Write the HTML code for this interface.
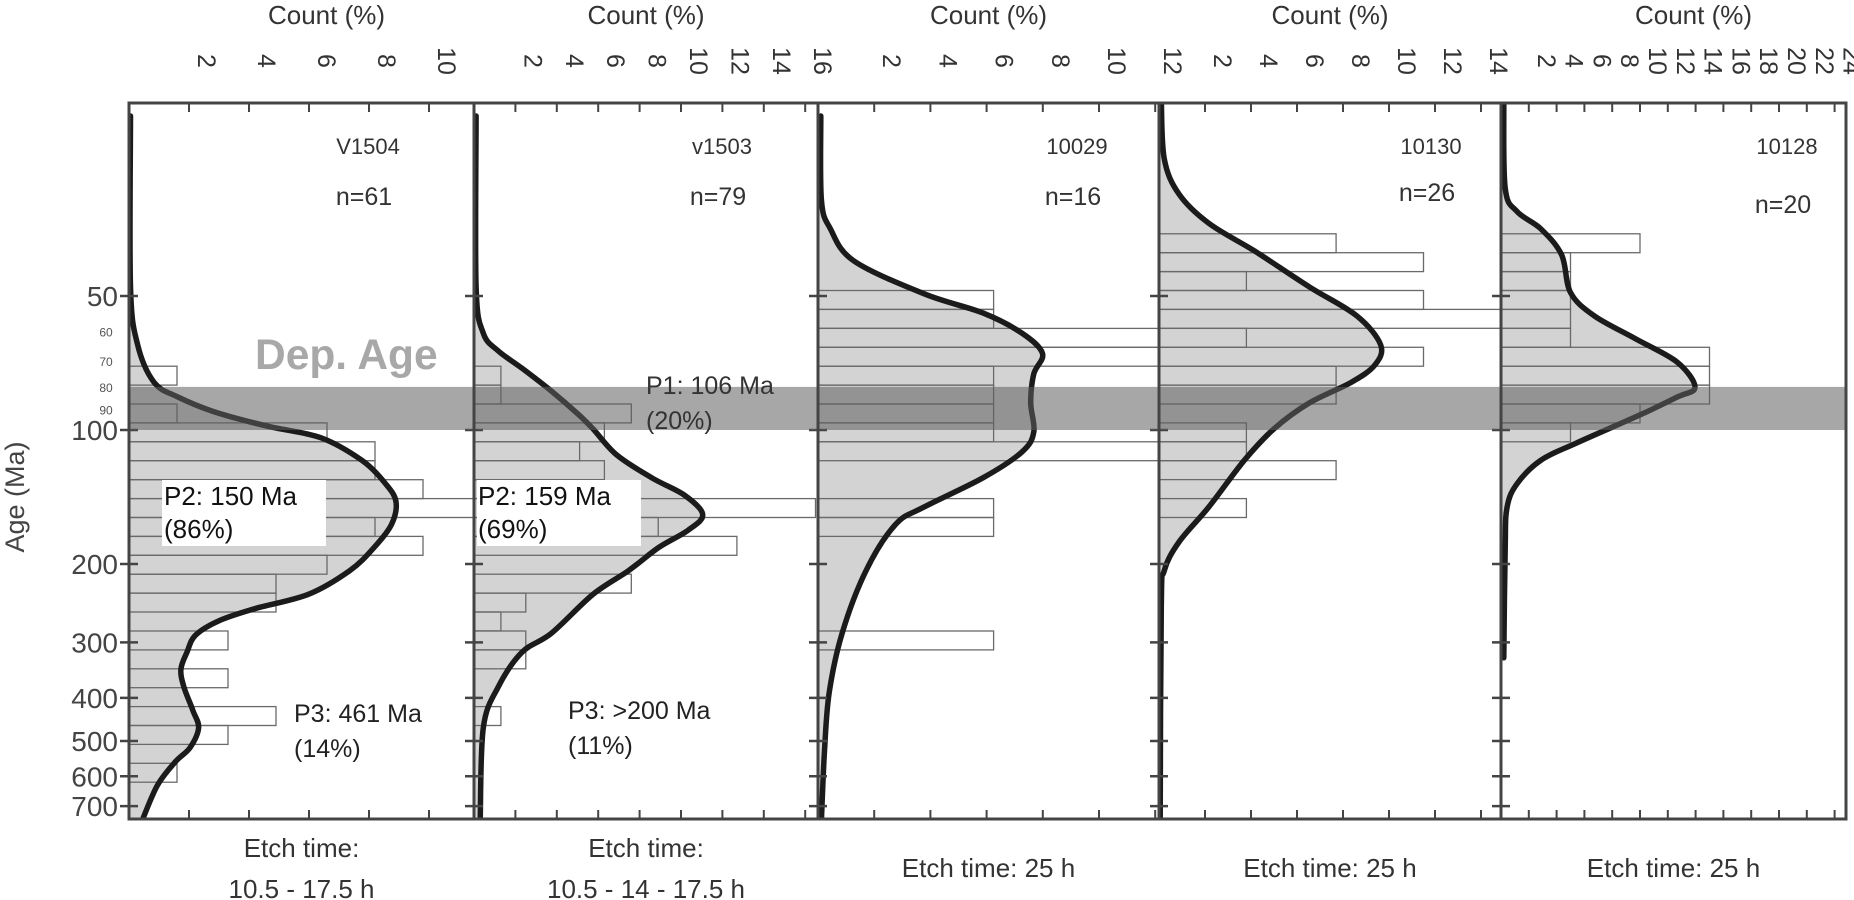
<!DOCTYPE html>
<html><head><meta charset="utf-8"><style>
html,body{margin:0;padding:0;background:#fff;}
svg{display:block;font-family:"Liberation Sans",Arial,sans-serif;}
</style></head><body>
<svg id="chart" width="1854" height="900" viewBox="0 0 1854 900" xmlns="http://www.w3.org/2000/svg">
<g id="root"></g>
</svg>
<script>
// ---- data ----
const sampleNames = ["V1504","v1503","10029","10130","10128"];
const sampleN = ["n=61","n=79","n=16","n=26","n=20"];
const etchLabels = [["Etch time:","10.5  - 17.5 h"],["Etch time:","10.5 - 14 - 17.5 h"],["Etch time: 25 h"],["Etch time: 25 h"],["Etch time: 25 h"]];
const countTicks1 = [2,4,6,8,10];
const countTicks2 = [2,4,6,8,10,12,14,16];
const countTicks3 = [2,4,6,8,10,12];
const countTicks4 = [2,4,6,8,10,12,14];
const countTicks5 = [2,4,6,8,10,12,14,16,18,20,22,24];
const ageTicks = [50,100,200,300,400,500,600,700];
const ageMinorTicks = [60,70,80,90];
const depAge = [80,100];
// histogram bins (percent), starting bin index per panel
const histStart = [-3,-3,-7,-10,-10];
const hist1 = [1.6,0,1.6,6.6,8.2,8.2,9.8,11.5,8.2,9.8,6.6,4.9,4.9,0,3.3,0,3.3,0,4.9,3.3,0,1.6];
const hist2 = [1.3,1.3,7.6,6.3,5.1,6.3,3.8,16.5,8.9,12.7,0,7.6,2.5,1.3,2.5,2.5,0,0,1.3];
const hist3 = [6.25,6.25,12.5,12.5,6.25,6.25,6.25,6.25,12.5,0,0,6.25,6.25,0,0,0,0,0,6.25];
const hist4 = [7.7,11.5,3.8,11.5,15.4,3.8,11.5,7.7,7.7,0,3.8,3.8,7.7,0,3.8];
const hist5 = [10,5,5,5,5,5,15,15,15,10,5];
// probability density curves
const ages1 = [19.7,47.7,64.4,78.2,84.3,90.9,98,104,117,132,145,163,184,207,234,252,268,289,316,345,378,427,467,518,558,630,754];
const pct1 = [0.05,0.05,0.29,0.84,1.63,2.82,4.6,6.38,7.76,8.55,8.9,8.75,8.16,7.36,5.98,4.2,3.02,2.22,1.93,1.73,1.83,2.13,2.32,2.03,1.53,0.94,0.44];
const ages2 = [19.7,47.7,60.6,66.4,72.6,81.8,92.2,99.4,113.8,128.3,140.4,155,168,184,207,234,286,316,378,467,754];
const pct2 = [0.1,0.1,0.45,1.17,2.31,3.75,5.04,5.75,6.9,8.62,10.2,11.05,10.34,8.9,7.47,5.75,3.75,2.31,1.17,0.45,0.3];
const ages3 = [19.7,30.4,35.3,41.7,49.5,54.6,60.6,67.3,74.8,86.9,101,112,128,149,163,207,286,389,526,754];
const pct3 = [0.1,0.12,0.44,1.28,3.8,5.88,7.26,7.99,7.68,7.57,7.68,7.26,5.88,3.77,2.76,1.71,0.86,0.4,0.23,0.12];
const ages4 = [18.2,24.6,29.5,34.3,39.8,47.7,55.4,64.4,71.5,78.2,86.9,99.4,117,149,178.5,207,248,760];
const pct4 = [0.1,0.23,0.87,2.16,4.22,6.54,8.6,9.64,9.38,8.35,6.54,5.0,3.71,2.16,0.87,0.23,0.1,0.05];
const ages5 = [18.2,28.6,32.3,35.3,40.4,49.1,55.4,62.4,70.4,80.1,84.3,92.2,107,117,132,149,184,325];
const pct5 = [0.2,0.3,1.16,2.86,4.36,5.0,6.71,9.69,12.68,13.96,12.68,10.1,5.42,2.86,1.16,0.44,0.3,0.2];

// ---- layout ----
const NS="http://www.w3.org/2000/svg";
const root=document.getElementById('root');
const TOP=103, BOT=819, RIGHT=1846;
const lefts=[129,474,818,1159,1501];
const pxPer=[30,20.7,28.1,23,13.9];
const binBase=96.4, binStep=0.0425;
function yOf(age){return 430+445*Math.log10(age/100);}
function mk(tag,attrs,parent){const e=document.createElementNS(NS,tag);for(const k in attrs)e.setAttribute(k,attrs[k]);(parent||root).appendChild(e);return e;}
function txt(s,attrs,parent){const e=mk('text',attrs,parent);e.textContent=s;return e;}
function smooth(pts){
  let d='M'+pts[0][0].toFixed(1)+','+pts[0][1].toFixed(1);
  for(let i=0;i<pts.length-1;i++){
    const p0=pts[Math.max(0,i-1)],p1=pts[i],p2=pts[i+1],p3=pts[Math.min(pts.length-1,i+2)];
    const c1x=p1[0]+(p2[0]-p0[0])/6,c1y=p1[1]+(p2[1]-p0[1])/6;
    const c2x=p2[0]-(p3[0]-p1[0])/6,c2y=p2[1]-(p3[1]-p1[1])/6;
    d+=' C'+c1x.toFixed(1)+','+c1y.toFixed(1)+' '+c2x.toFixed(1)+','+c2y.toFixed(1)+' '+p2[0].toFixed(1)+','+p2[1].toFixed(1);
  }
  return d;
}

const hists=[hist1,hist2,hist3,hist4,hist5];
const curvesA=[ages1,ages2,ages3,ages4,ages5];
const curvesP=[pct1,pct2,pct3,pct4,pct5];
const ticksAll=[countTicks1,countTicks2,countTicks3,countTicks4,countTicks5];
const defs=mk('defs',{});

for(let p=0;p<5;p++){
  const L=lefts[p], R=(p<4?lefts[p+1]:RIGHT);
  const xOf=v=>L+v*pxPer[p];
  const cp=mk('clipPath',{id:'clip'+p},defs);
  mk('rect',{x:L,y:TOP,width:R-L,height:BOT-TOP},cp);
  const g=mk('g',{'clip-path':'url(#clip'+p+')'});
  
  
  const A=curvesA[p], P=curvesP[p];
  const pts=A.map((a,i)=>[xOf(P[i]),yOf(a)]);
  const sd=smooth(pts);
  const d=sd+' L'+L+','+yOf(A[A.length-1]).toFixed(1)+' L'+L+','+yOf(A[0]).toFixed(1)+' Z';
  const f=mk('path',{d:d,fill:'#d3d3d3',stroke:'none'},g);
  
  
  const H=hists[p];
  for(let i=0;i<H.length;i++){
    if(H[i]<=0) continue;
    const k=histStart[p]+i;
    const a0=binBase*Math.pow(10,k*binStep), a1=binBase*Math.pow(10,(k+1)*binStep);
    const y0=yOf(a0), y1=yOf(a1);
    const r=mk('rect',{x:L,y:y0.toFixed(1),width:(xOf(H[i])-L).toFixed(1),height:(y1-y0).toFixed(1),fill:'none',stroke:'#6a6a6a','stroke-width':1.3},g);
    
    
  }
  const ln=mk('path',{d:sd,fill:'none',stroke:'#1b1b1b','stroke-width':5.5,'stroke-linejoin':'round','stroke-linecap':'round'},g);
  
  
  const T=ticksAll[p];
  for(const t of T){
    const x=xOf(t);
    mk('line',{x1:x,y1:TOP,x2:x,y2:TOP+9,stroke:'#444','stroke-width':2});
    mk('line',{x1:x,y1:BOT,x2:x,y2:BOT-9,stroke:'#444','stroke-width':2});
    const tl=txt(String(t),{x:0,y:0,'font-size':25,fill:'#333','text-anchor':'middle',transform:'translate('+(x+9)+',61) rotate(90)'});
    
    
  }
  const ct=txt('Count (%)',{x:(L+R)/2+ (p==0?25:p==4?20:0),y:24,'font-size':26,fill:'#333','text-anchor':'middle'});
  
  
  for(const a of ageTicks){ const y=yOf(a); mk('line',{x1:L-9,y1:y,x2:L+9,y2:y,stroke:'#444','stroke-width':2.5}); }
  const nx=[368,722,1077,1431,1787][p];
  const nmy=[147,147,147,147,147][p], ny=[196,196,196,192,204][p];
  const sl=txt(sampleNames[p],{x:nx,y:nmy+7,'font-size':22,fill:'#333','text-anchor':'middle'});
  
  
  const nl=txt(sampleN[p],{x:nx-4,y:ny+9,'font-size':25,fill:'#333','text-anchor':'middle'});
  
  
  const E=etchLabels[p];
  if(E.length==2){
    txt(E[0],{x:(L+R)/2,y:857,'font-size':26,fill:'#333','text-anchor':'middle'});
    txt(E[1],{x:(L+R)/2,y:898,'font-size':26,fill:'#333','text-anchor':'middle'});
  } else {
    const el=txt(E[0],{x:(L+R)/2,y:877,'font-size':26,fill:'#333','text-anchor':'middle'});
    
    
  }
}
const band=mk('rect',{x:lefts[0],y:yOf(depAge[0]),width:RIGHT-lefts[0],height:yOf(depAge[1])-yOf(depAge[0]),fill:'rgba(95,95,95,0.55)'});


for(let p=0;p<5;p++){
  const L=lefts[p], R=(p<4?lefts[p+1]:RIGHT);
  mk('rect',{x:L,y:TOP,width:R-L,height:BOT-TOP,fill:'none',stroke:'#444','stroke-width':3});
}
mk('line',{x1:RIGHT,y1:TOP,x2:RIGHT,y2:BOT,stroke:'#444','stroke-width':3});
for(const a of ageTicks){
  const t=txt(String(a),{x:118,y:yOf(a)+10,'font-size':28,fill:'#444','text-anchor':'end'});
  
  
}
for(const a of ageMinorTicks){
  txt(String(a),{x:106,y:yOf(a)+5,'font-size':12,fill:'#555','text-anchor':'middle'});
}
const yt=txt('Age (Ma)',{x:0,y:0,'font-size':27,fill:'#444','text-anchor':'middle',transform:'translate(24,497) rotate(-90)'});


</script>
<script>
const svgR=document.getElementById('root');
function ann(html){svgR.insertAdjacentHTML('beforeend',html);}
ann('<text x="255" y="369" font-size="42.5" font-weight="bold" fill="#a8a8a8">Dep. Age</text>');
ann('<text x="646" y="394" font-size="25" fill="#333">P1: 106 Ma</text>');
ann('<text x="646" y="429" font-size="25" fill="#333">(20%)</text>');
ann('<rect x="162" y="480" width="164" height="66" fill="#fff"/>');
ann('<text x="164" y="505" font-size="26" fill="#111">P2: 150 Ma</text>');
ann('<text x="164" y="538" font-size="26" fill="#111">(86%)</text>');
ann('<rect x="477" y="480" width="164" height="66" fill="#fff"/>');
ann('<text x="478" y="505" font-size="26" fill="#111">P2: 159 Ma</text>');
ann('<text x="478" y="538" font-size="26" fill="#111">(69%)</text>');
ann('<text x="294" y="722" font-size="25" fill="#222">P3: 461 Ma</text>');
ann('<text x="294" y="757" font-size="25" fill="#222">(14%)</text>');
ann('<text x="568" y="719" font-size="25" fill="#222">P3: &gt;200 Ma</text>');
ann('<text x="568" y="754" font-size="25" fill="#222">(11%)</text>');
</script>
</body></html>
